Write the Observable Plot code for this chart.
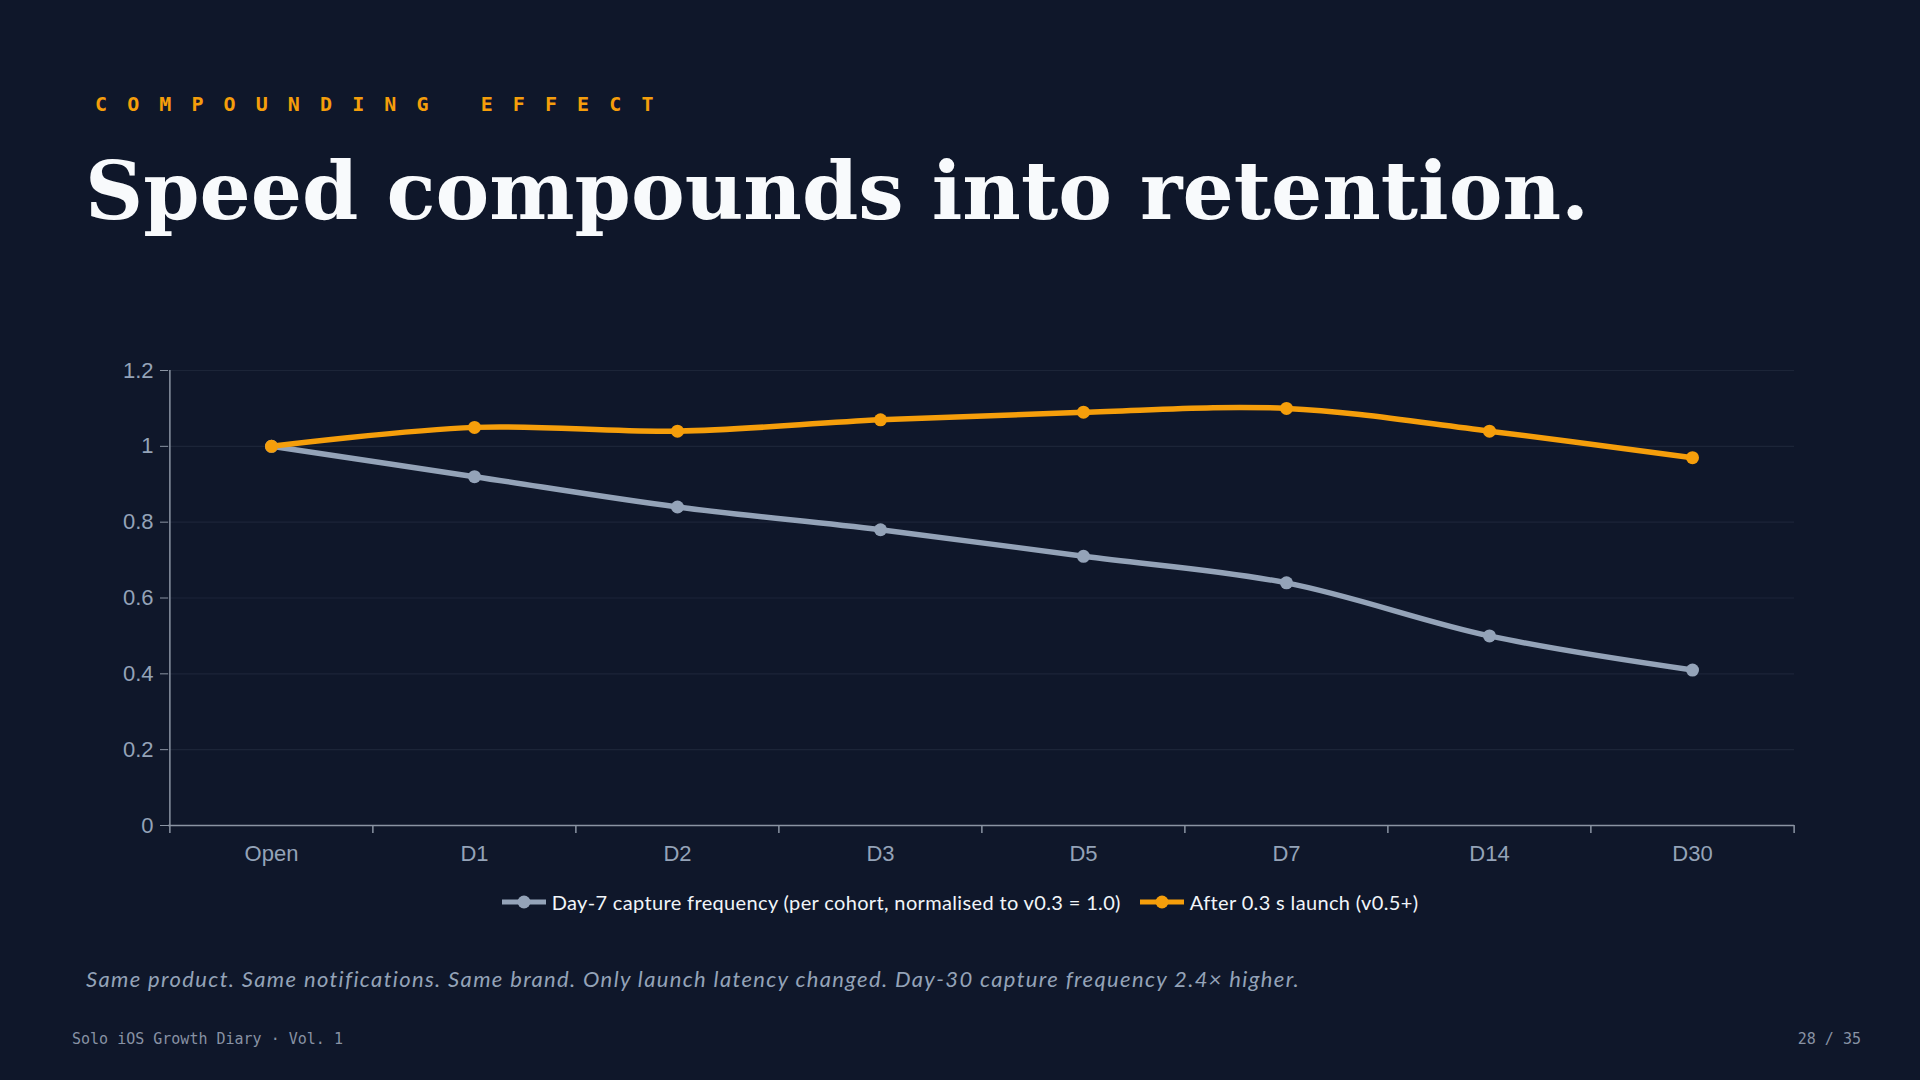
<!DOCTYPE html>
<html>
<head>
<meta charset="utf-8">
<script src="https://cdn.jsdelivr.net/npm/d3@7"></script>
<script src="https://cdn.jsdelivr.net/npm/@observablehq/plot@0.6"></script>
<style>
  html, body { margin: 0; padding: 0; background: #0f172a; }
  #page { position: relative; width: 1920px; height: 1080px; background: #0f172a; overflow: hidden; }
  .eyebrow { position: absolute; left: 95px; top: 94px; font-family: "DejaVu Sans Mono", monospace; font-weight: bold; font-size: 20px; line-height: 20px; letter-spacing: 20.1px; color: #f59e0b; white-space: nowrap; }
  .title { position: absolute; left: 85px; top: 150px; font-family: "DejaVu Serif", serif; font-weight: bold; font-size: 80.6px; line-height: 81px; color: #f8fafc; white-space: nowrap; }
  #chart { position: absolute; left: 0; top: 340px; }
  #legend { position: absolute; left: 0; top: 889px; width: 1920px; height: 26px; display: flex; justify-content: center; align-items: center; font-family: Lato, sans-serif; font-size: 20px; letter-spacing: 0.35px; color: #f1f5f9; }
  #legend .item { display: flex; align-items: center; margin: 0 9.5px; white-space: nowrap; }
  #legend svg { margin-right: 6px; }
  .caption { position: absolute; left: 86px; top: 968px; font-family: Lato, sans-serif; font-style: italic; font-size: 22px; line-height: 22px; letter-spacing: 1.35px; color: #94a3b8; white-space: nowrap; }
  .foot { position: absolute; top: 1032px; font-family: "DejaVu Sans Mono", monospace; font-size: 15px; line-height: 15px; color: #8892a4; white-space: nowrap; }
</style>
</head>
<body>
<div id="page">
  <div class="eyebrow">COMPOUNDING EFFECT</div>
  <div class="title">Speed compounds into retention.</div>
  <div id="chart"></div>
  <div id="legend"></div>
  <div class="caption">Same product. Same notifications. Same brand. Only launch latency changed. Day-30 capture frequency 2.4× higher.</div>
  <div class="foot" style="left:72px;">Solo iOS Growth Diary · Vol. 1</div>
  <div class="foot" style="right:59px;">28 / 35</div>
</div>
<script>
const categories = ["Open", "D1", "D2", "D3", "D5", "D7", "D14", "D30"];
const baselineValues = [1.0, 0.92, 0.84, 0.78, 0.71, 0.64, 0.50, 0.41];
const fastLaunchValues = [1.0, 1.05, 1.04, 1.07, 1.09, 1.10, 1.04, 0.97];
const seriesNames = [
  "Day-7 capture frequency (per cohort, normalised to v0.3 = 1.0)",
  "After 0.3 s launch (v0.5+)"
];
const seriesColors = ["#94a3b8", "#f59e0b"];
const yTicks = [0, 0.2, 0.4, 0.6, 0.8, 1, 1.2];

const seriesValues = [baselineValues, fastLaunchValues];
const rows = [];
seriesNames.forEach((name, s) => {
  categories.forEach((c, i) => rows.push({series: name, cat: c, value: seriesValues[s][i]}));
});

const W = 1920, H = 540;
const mL = 168, mR = 126, mT = 30, mB = 55;
const step = (W - mL - mR) / categories.length;
const axisColor = "#8b94a3";
const labelColor = "#94a3b8";

const chart = Plot.plot({
  width: W,
  height: H,
  marginLeft: mL,
  marginRight: mR,
  marginTop: mT,
  marginBottom: mB,
  style: {background: "transparent", fontFamily: "'Liberation Sans', Arial, sans-serif", overflow: "visible"},
  x: {type: "point", domain: categories, padding: 0.5},
  y: {domain: [0, 1.2]},
  color: {domain: seriesNames, range: seriesColors},
  marks: [
    Plot.gridY(yTicks, {stroke: "#1c2538", strokeOpacity: 1, strokeWidth: 1.2}),
    Plot.axisY(yTicks, {tickSize: 8, tickPadding: 7, fontSize: 22, color: labelColor, stroke: axisColor, tickFormat: d => String(d), label: null}),
    Plot.axisX({tickSize: 0, tickPadding: 20, fontSize: 22, color: labelColor, label: null}),
    Plot.ruleY([0], {stroke: axisColor, strokeWidth: 1.5}),
    Plot.ruleX([categories[0]], {x: d => d, y1: 0, y2: 1.2, dx: -step / 2, stroke: axisColor, strokeWidth: 1.5}),
    Plot.ruleX(categories, {x: d => d, y1: 0, y2: 0, insetBottom: -8, dx: -step / 2, stroke: axisColor, strokeWidth: 1.5}),
    Plot.ruleX([categories[categories.length - 1]], {x: d => d, y1: 0, y2: 0, insetBottom: -8, dx: step / 2, stroke: axisColor, strokeWidth: 1.5}),
    Plot.line(rows, {x: "cat", y: "value", z: "series", stroke: "series", strokeWidth: 5.5, curve: "catmull-rom"}),
    Plot.dot(rows, {x: "cat", y: "value", fill: "series", r: 6.5})
  ]
});
document.getElementById("chart").appendChild(chart);

const legend = document.getElementById("legend");
seriesNames.forEach((name, i) => {
  const item = document.createElement("div");
  item.className = "item";
  item.innerHTML = `<svg width="44" height="16"><line x1="0" y1="8" x2="44" y2="8" stroke="${seriesColors[i]}" stroke-width="5"/><circle cx="22" cy="8" r="6.5" fill="${seriesColors[i]}"/></svg><span></span>`;
  item.querySelector("span").textContent = name;
  legend.appendChild(item);
});
</script>
</body>
</html>
